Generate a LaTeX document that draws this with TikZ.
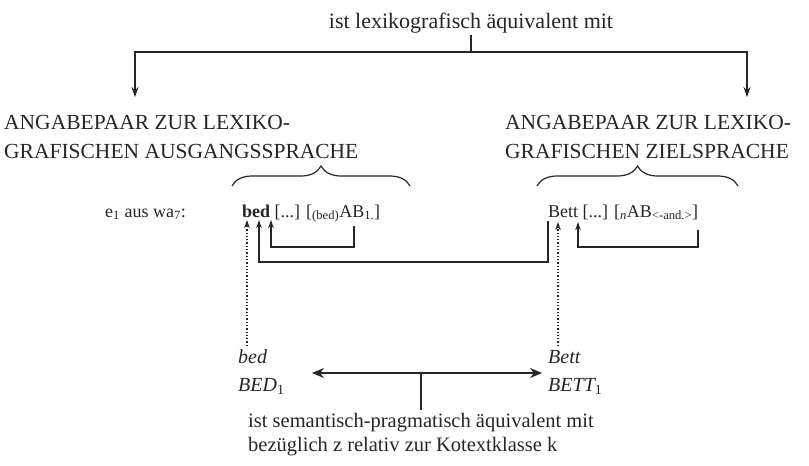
\documentclass[tikz,border=0pt]{standalone}
\usepackage{fontspec}
\setmainfont{Liberation Serif}
\usetikzlibrary{arrows.meta,decorations.pathreplacing}
\begin{document}
\begin{tikzpicture}[x=1pt,y=-1pt,
  line/.style={line width=1.4pt, draw=black!85},
  arr/.style={line, -{Stealth[length=10pt,width=7pt]}},
  sarr/.style={line, -{Stealth[length=8pt,width=5.5pt]}},
  darr/.style={line width=1.3pt, draw=black!85, dotted, -{Stealth[length=8pt,width=5.5pt]}},
  brc/.style={decorate, decoration={brace, amplitude=20pt}, line width=1.2pt, draw=black!85},
  toptxt/.style={inner sep=0pt, font=\fontsize{22}{26}\selectfont, text=black!85},
  head/.style={inner sep=0pt, anchor=base west, font=\fontsize{21.5}{26}\selectfont, text=black!85},
  row/.style={inner sep=0pt, anchor=base west, font=\fontsize{18}{22}\selectfont, text=black!85},
  lbl/.style={inner sep=0pt, anchor=base west, font=\fontsize{20}{24}\selectfont\itshape, text=black!85},
  bot/.style={inner sep=0pt, anchor=base west, font=\fontsize{20.5}{24}\selectfont, text=black!85}
]
\useasboundingbox (0,0) rectangle (809,466);
\fill[white] (0,0) rectangle (809,466);

% top relation
\node[toptxt, anchor=base] (top) at (471,28) {ist lexikografisch äquivalent mit};
\coordinate (stemtop) at (471,35);
\coordinate (hub) at (471,52);
\coordinate (lc) at (135,52);
\coordinate (rc) at (747,52);
\coordinate (ltip) at (135,97);
\coordinate (rtip) at (747,97);
\draw[line] (stemtop) -- (hub);
\draw[arr] (hub) -- (lc) -- (ltip);
\draw[arr] (hub) -- (rc) -- (rtip);

% headings
\node[head] (hl1) at (4,129) {ANGABEPAAR ZUR LEXIKO-};
\node[head] (hl2) at (4,158) {GRAFISCHEN AUSGANGSSPRACHE};
\node[head] (hr1) at (505,129) {ANGABEPAAR ZUR LEXIKO-};
\node[head] (hr2) at (505,158) {GRAFISCHEN ZIELSPRACHE};

% braces
\coordinate (lb1) at (232,186);
\coordinate (lb2) at (410,186);
\coordinate (rb1) at (537,186);
\coordinate (rb2) at (738,186);
\draw[brc] (lb1) -- (lb2);
\draw[brc] (rb1) -- (rb2);

% row
\node[row, anchor=base east] (ex) at (186,217) {e\textsubscript{1} aus wa\textsubscript{7}:};
\node[row] (lrow) at (242,217) {\textbf{bed} [...] [\textsubscript{(bed)}AB\textsubscript{1.}]};
\node[row] (rrow) at (548,217) {Bett [...] [\textsubscript{\textit{n}}AB\textsubscript{<-and.>}]};

% connectors in row
\coordinate (la) at (247,220);
\coordinate (lb) at (259,220);
\coordinate (lcx) at (271,220);
\coordinate (lsub) at (354,226);
\coordinate (rB) at (548,221);
\coordinate (ra) at (558,222);
\coordinate (rt) at (578,222);
\coordinate (rsub) at (698,230);
\draw[sarr] (lsub) -- (354,247) -- (271,247) -- (lcx);
\draw[sarr] (rB) -- (548,262) -- (259,262) -- (lb);
\draw[sarr] (rsub) -- (698,247) -- (578,247) -- (rt);

% dotted links
\coordinate (ld) at (247,346);
\coordinate (rd) at (558,346);
\draw[darr] (ld) -- (la);
\draw[darr] (rd) -- (ra);

% bottom labels
\node[lbl] (bed) at (238,363) {bed};
\node[lbl] (BED) at (238,391) {BED\textsubscript{\upshape 1}};
\node[lbl] (bett) at (548,363) {Bett};
\node[lbl] (BETT) at (548,391) {BETT\textsubscript{\upshape 1}};

\coordinate (dl) at (312,373);
\coordinate (dr) at (542,373);
\coordinate (dm) at (421,373);
\coordinate (dmb) at (421,410);
\draw[line, {Stealth[length=12pt,width=10pt]}-{Stealth[length=12pt,width=10pt]}] (dl) -- (dr);
\draw[line] (dm) -- (dmb);

\node[bot] (s1) at (248,427) {ist semantisch-pragmatisch äquivalent mit};
\node[bot] (s2) at (248,451) {bezüglich z relativ zur Kotextklasse k};
\end{tikzpicture}
\end{document}
